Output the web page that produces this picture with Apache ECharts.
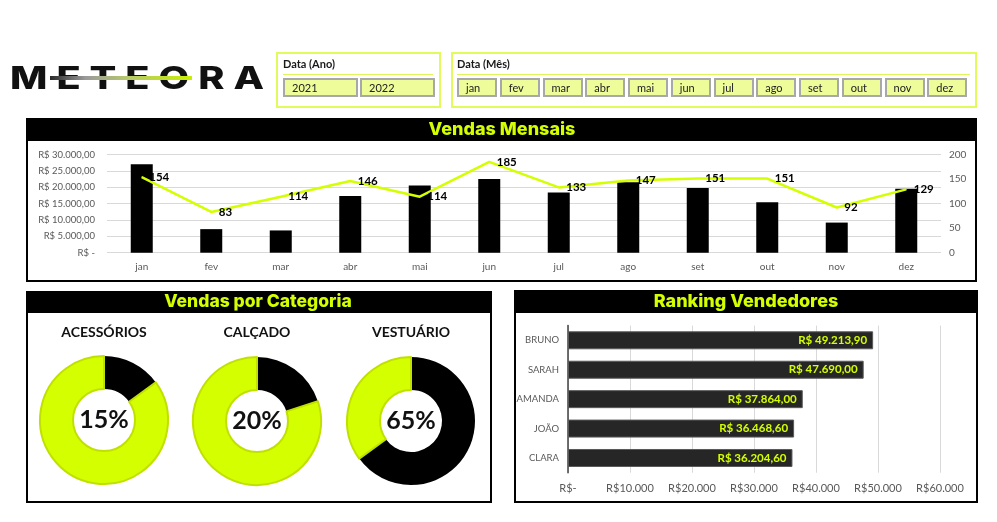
<!DOCTYPE html>
<html><head><meta charset="utf-8">
<script src="https://cdn.jsdelivr.net/npm/echarts@6/dist/echarts.min.js"></script>
<style>
html,body{margin:0;padding:0;background:#fff;}
#wrap{position:relative;width:997px;height:522px;overflow:hidden;font-family:Lato,'Liberation Sans',sans-serif;}
#chart{position:absolute;left:0;top:0;width:997px;height:522px;}
.slicer{position:absolute;border:2px solid #e2fb5c;box-sizing:border-box;background:#fff;}
.stitle{position:absolute;font:bold 11px Lato,sans-serif;color:#1a1a1a;}
.sline{position:absolute;height:0;border-top:1.5px solid #dcf75a;}
.btn{position:absolute;height:19px;box-sizing:border-box;background:#eefc9a;border:2px solid #a8a8a8;font:11px Lato,sans-serif;color:#222;line-height:15px;padding-left:7px;}
#logo{position:absolute;left:10px;top:59px;font:800 31px Inter,sans-serif;letter-spacing:7px;color:#111;white-space:nowrap;transform:scaleX(1.28);transform-origin:0 0;line-height:38px;}
#logoline{position:absolute;left:50px;top:76px;width:142px;height:4px;background:linear-gradient(90deg,#2a2a2a 0%,#9a9a9a 25%,#b5c96a 55%,#c8ee00 100%);}
</style></head>
<body><div id="wrap"><div id="chart"></div>
<div id="logo">METEORA</div><div id="logoline"></div>
<div class="slicer" style="left:276px;top:52px;width:165px;height:56px;"></div>
<div class="stitle" style="left:283px;top:57px;">Data (Ano)</div>
<div class="sline" style="left:283px;top:74px;width:150px;"></div>
<div class="slicer" style="left:451px;top:52px;width:526px;height:56px;"></div>
<div class="stitle" style="left:457px;top:57px;">Data (Mês)</div>
<div class="sline" style="left:457px;top:74px;width:513px;"></div>
<div id="btns"></div>
</div>
<script>
var years = ['2021','2022'];
var months = ['jan','fev','mar','abr','mai','jun','jul','ago','set','out','nov','dez'];
var salesValue = [27000,7200,6800,17300,20500,22500,18400,21500,19800,15400,9200,19500];
var salesQty = [154,83,114,146,114,185,133,147,151,151,92,129];
var categories = ['ACESSÓRIOS','CALÇADO','VESTUÁRIO'];
var categoryShare = [15,20,65];
var sellers = ['BRUNO','SARAH','AMANDA','JOÃO','CLARA'];
var sellerSales = [49213.90,47690.00,37864.00,36468.60,36204.60];

var btns = document.getElementById('btns');
years.forEach(function(y,i){
  var d=document.createElement('div');d.className='btn';d.textContent=y;
  d.style.left=(283+i*77)+'px';d.style.top='78px';d.style.width='75px';btns.appendChild(d);
});
months.forEach(function(m,i){
  var d=document.createElement('div');d.className='btn';d.textContent=m;
  d.style.left=(457+i*42.75)+'px';d.style.top='78px';d.style.width='40px';btns.appendChild(d);
});

function br(v,dec){
  var s=v.toFixed(dec).split('.');
  var ip=s[0].replace(/\B(?=(\d{3})+(?!\d))/g,'.');
  return dec?ip+','+s[1]:ip;
}
var NEON='#d4ff00';
var FONT='Lato, "Liberation Sans", sans-serif';
var TFONT='Inter, "Open Sans", sans-serif';

var chart = echarts.init(document.getElementById('chart'),null,{renderer:'canvas'});

var graphic = [
  {type:'rect',z:-10,shape:{x:27,y:119,width:949,height:162},style:{fill:'#fff',stroke:'#000',lineWidth:2}},
  {type:'rect',z:-9,shape:{x:27,y:119,width:949,height:22},style:{fill:'#000'}},
  {type:'text',z:10,x:502,y:130,style:{text:'Vendas Mensais',fill:NEON,font:'800 18px '+TFONT,align:'center',verticalAlign:'middle'}},
  {type:'rect',z:-10,shape:{x:27,y:292,width:464,height:210},style:{fill:'#fff',stroke:'#000',lineWidth:2}},
  {type:'rect',z:-9,shape:{x:27,y:292,width:464,height:21},style:{fill:'#000'}},
  {type:'text',z:10,x:258,y:302,style:{text:'Vendas por Categoria',fill:NEON,font:'800 17.5px '+TFONT,align:'center',verticalAlign:'middle'}},
  {type:'rect',z:-10,shape:{x:515,y:291,width:462,height:211},style:{fill:'#fff',stroke:'#000',lineWidth:2}},
  {type:'rect',z:-9,shape:{x:515,y:291,width:462,height:22},style:{fill:'#000'}},
  {type:'text',z:10,x:746,y:302,style:{text:'Ranking Vendedores',fill:NEON,font:'800 18px '+TFONT,align:'center',verticalAlign:'middle'}}
];
var pieCenters=[[104,420],[257,421],[411,421]];
categories.forEach(function(c,i){
  graphic.push({type:'text',z:10,x:pieCenters[i][0],y:332,style:{text:c,fill:'#111',font:'bold 14px '+FONT,align:'center',verticalAlign:'middle'}});
});

var series = [
  {type:'bar',xAxisIndex:0,yAxisIndex:0,data:salesValue,barWidth:22,itemStyle:{color:'#000'},z:3},
  {type:'line',xAxisIndex:0,yAxisIndex:1,data:salesQty,symbol:'circle',symbolSize:1,
   itemStyle:{color:NEON},lineStyle:{color:NEON,width:2.5},z:4,
   label:{show:true,position:'right',distance:7,color:'#000',fontWeight:'bold',fontSize:11.5,fontFamily:FONT}},
  {type:'bar',xAxisIndex:1,yAxisIndex:2,data:sellerSales,barWidth:18,
   itemStyle:{color:'#262626',borderColor:'#5a5a5a',borderWidth:1},z:3,
   label:{show:true,position:'insideRight',distance:6,color:NEON,fontWeight:'bold',fontSize:11.5,fontFamily:FONT,
     formatter:function(p){return 'R$ '+br(p.value,2);}}}
];
categoryShare.forEach(function(v,i){
  series.push({type:'pie',center:pieCenters[i],radius:[31,64],startAngle:90,clockwise:true,silent:true,z:3,
    label:{show:false},labelLine:{show:false},
    data:[
      {value:v,itemStyle:{color:'#000'},label:{show:true,position:'center',formatter:function(p){return p.value+'%';},
        color:'#111',fontWeight:'bold',fontSize:25,fontFamily:FONT}},
      {value:100-v,itemStyle:{color:NEON,borderColor:'#c2e000',borderWidth:2}}
    ]});
});

var option = {
  animation:false,
  graphic:{elements:graphic},
  grid:[
    {left:107,right:56,top:154.5,bottom:269.3},
    {left:568,right:57,top:325.6,bottom:49.3}
  ],
  xAxis:[
    {type:'category',gridIndex:0,data:months,axisLine:{show:false},axisTick:{show:false},
     axisLabel:{color:'#595959',fontSize:10,fontFamily:FONT,margin:9}},
    {type:'value',gridIndex:1,min:0,max:60000,interval:10000,axisLine:{show:false},axisTick:{show:false},
     splitLine:{lineStyle:{color:'#d9d9d9'}},
     axisLabel:{color:'#595959',fontSize:11,fontFamily:FONT,margin:10,
       formatter:function(v){return v===0?'R$-':'R$'+br(v,0);}}}
  ],
  yAxis:[
    {type:'value',gridIndex:0,min:0,max:30000,interval:5000,axisLine:{show:false},axisTick:{show:false},
     splitLine:{lineStyle:{color:'#d9d9d9'}},
     axisLabel:{color:'#595959',fontSize:9.5,fontFamily:FONT,margin:12,
       formatter:function(v){return v===0?'R$ -':'R$ '+br(v,2);}}},
    {type:'value',gridIndex:0,position:'right',min:0,max:200,interval:50,axisLine:{show:false},axisTick:{show:false},
     splitLine:{show:false},axisLabel:{color:'#595959',fontSize:10,fontFamily:FONT,margin:8}},
    {type:'category',gridIndex:1,data:sellers,inverse:true,axisLine:{show:true,lineStyle:{color:'#404040',width:1.5}},
     axisTick:{show:false},axisLabel:{color:'#595959',fontSize:9.5,fontFamily:FONT,margin:9}}
  ],
  series:series
};
chart.setOption(option);
</script></body></html>
